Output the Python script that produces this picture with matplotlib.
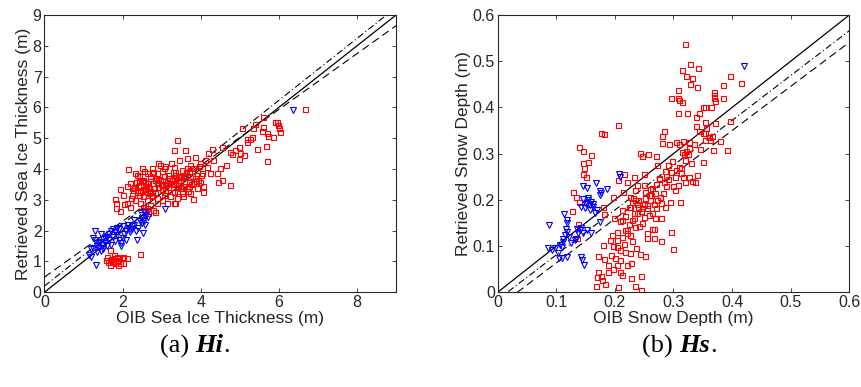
import matplotlib
matplotlib.use("Agg")
import matplotlib.pyplot as plt
import numpy as np

# ---------------- data: panel (a) sea ice thickness ----------------
hi_red_x = [6.66, 5.6, 5.07, 5.35, 5.4, 5.59, 5.57, 5.69, 5.72, 5.84, 5.9, 5.95, 5.99, 6.0, 6.02,
            5.67, 5.43, 5.69, 5.18, 5.31, 5.26, 5.19, 4.97, 4.88, 5.01, 5.1, 4.97, 4.79, 4.75,
            4.54, 4.5, 4.41, 4.54, 4.45, 4.75, 4.64, 4.28, 4.19, 4.1, 4.32, 4.07,
            3.39, 3.32, 3.6, 2.96, 3.1, 3.23, 2.15, 1.94, 1.81, 1.83, 1.83, 1.94, 2.11, 2.02, 2.24,
            3.8, 3.34, 2.83, 2.62,
            2.41, 2.35, 2.45, 2.53, 2.62, 2.7, 2.75, 2.66, 2.49, 2.41, 2.53, 2.62, 2.75, 2.83, 2.92,
            2.96, 2.87, 3.05, 3.13, 3.17, 3.09, 3.22, 3.31, 3.39, 3.47, 3.56, 3.51, 3.64, 3.73, 3.81,
            3.9, 3.77, 3.69, 3.81, 3.94, 3.64, 3.51, 3.39, 3.31, 3.13, 3.0, 2.87, 2.7, 2.79, 2.66,
            2.53, 2.45, 2.32, 2.24, 2.28, 2.19, 2.36, 2.49, 2.75, 3.05, 3.31, 3.44, 3.64, 3.86, 3.99,
            4.03, 3.99, 3.9, 3.73, 2.92, 2.75, 2.57, 2.83, 3.0, 3.26, 3.34, 2.87, 2.62, 2.75, 3.05,
            3.17, 2.11, 2.19, 2.57, 2.49, 4.16, 4.25, 3.56, 3.43,
            2.6, 2.7, 2.9, 3.0, 3.2, 3.3, 3.5, 3.6, 2.5, 2.8, 3.1, 3.4, 3.7, 2.55, 2.65, 2.95, 3.25,
            3.45, 3.55, 3.35, 3.15, 2.85, 2.45, 2.4, 3.7, 3.85, 4.0, 3.75, 3.62,
            2.3, 2.55, 2.68, 2.78, 2.98, 3.08, 3.28, 3.48, 3.58, 3.68, 2.22, 2.38, 2.58, 2.88,
            3.18, 3.38, 3.88, 4.05, 2.05, 2.33, 2.72, 3.02, 3.52, 3.95, 2.42, 2.92, 3.42,
            1.6, 1.68, 1.77, 1.85, 1.72, 1.81, 1.89, 1.98, 1.94, 1.68, 1.64, 1.77, 1.85, 2.02, 2.11,
            2.02, 2.45, 1.68, 1.58, 1.89, 1.75, 1.92, 1.7]
hi_red_y = [5.96, 5.7, 5.32, 5.32, 5.46, 5.38, 5.22, 5.16, 5.08, 5.05, 5.54, 5.54, 5.43, 5.32, 5.2,
            4.76, 4.65, 4.25, 4.99, 5.05, 4.97, 4.89, 4.73, 4.62, 4.51, 4.46, 4.32, 4.49, 4.57,
            4.73, 4.03, 3.86, 3.65, 3.59, 3.48, 4.13, 4.64, 4.51, 4.3, 4.3, 3.24,
            4.95, 4.62, 4.62, 4.13, 4.11, 4.21, 3.99, 3.34, 3.02, 2.89, 2.73, 2.65, 3.45, 3.16, 3.38,
            3.02, 2.89, 2.62, 2.73,
            3.76, 3.59, 3.48, 3.65, 3.86, 3.76, 3.54, 3.43, 3.32, 3.16, 3.11, 3.0, 3.11, 3.27, 3.43,
            3.65, 3.86, 3.76, 3.59, 3.43, 3.27, 3.11, 3.27, 3.43, 3.59, 3.76, 3.97, 4.03, 4.13, 4.03,
            3.97, 3.79, 3.59, 3.54, 3.65, 3.38, 3.21, 3.05, 2.89, 2.89, 3.0, 2.89, 2.83, 2.67, 2.56,
            2.78, 2.89, 3.0, 3.16, 3.32, 3.54, 3.81, 4.03, 4.03, 4.03, 4.08, 4.3, 4.35, 4.4, 4.19,
            3.86, 3.59, 3.38, 3.21, 4.19, 3.86, 3.59, 3.65, 3.48, 3.65, 3.81, 3.05, 3.27, 3.27, 3.16,
            3.81, 2.89, 2.78, 2.67, 2.45, 4.08, 3.86, 3.11, 3.65,
            3.45, 3.3, 3.55, 3.35, 3.7, 3.5, 3.4, 3.75, 3.6, 3.4, 3.5, 3.3, 3.45, 3.35, 3.55, 3.65, 3.55,
            3.75, 3.45, 3.9, 3.65, 3.7, 3.25, 3.45, 3.95, 3.7, 3.8, 3.5, 3.9,
            3.42, 3.95, 3.22, 3.92, 3.52, 3.32, 3.92, 3.38, 3.82, 3.28, 3.05, 3.25, 3.4, 3.58,
            3.55, 3.72, 3.62, 3.45, 2.85, 3.88, 3.15, 3.95, 3.28, 4.1, 3.62, 3.68, 3.78,
            1.16, 1.05, 1.1, 1.16, 0.99, 0.94, 1.05, 1.1, 0.94, 0.89, 0.99, 1.21, 1.0, 1.16, 1.1,
            0.94, 1.23, 1.37, 1.05, 0.89, 1.02, 1.12, 1.08]
hi_blue_x = [1.19, 1.31, 1.2, 1.25, 1.3, 1.35, 1.4, 1.45, 1.5, 1.55, 1.6, 1.65, 1.7, 1.75, 1.8,
             1.85, 1.9, 1.95, 2.0, 2.05, 2.1, 2.15, 2.2, 2.25, 2.3, 2.35, 2.4, 2.45, 2.5, 2.55,
             2.58, 2.53, 2.38, 2.5, 1.3, 1.45, 1.55, 1.7, 1.8, 1.35, 1.4, 1.5, 1.6, 1.75, 1.9,
             2.0, 2.2, 2.3, 1.25, 1.65, 2.6, 3.1, 6.37, 1.85, 1.95, 2.1, 1.15, 2.65, 1.5, 1.42,
             2.15, 2.25, 2.5, 2.55]
hi_blue_y = [1.16, 0.89, 1.4, 1.75, 1.7, 1.5, 1.45, 1.35, 1.55, 1.6, 1.8, 1.9, 2.0, 2.05, 1.95,
             1.85, 1.7, 1.6, 1.75, 1.9, 2.0, 2.1, 2.05, 2.15, 2.2, 2.0, 2.1, 2.3, 2.4, 2.3,
             2.2, 1.92, 1.7, 2.51, 2.0, 1.9, 1.75, 1.55, 1.65, 1.3, 1.6, 1.4, 1.5, 1.8, 2.05,
             2.15, 1.95, 2.35, 1.45, 1.7, 2.5, 2.69, 5.92, 2.1, 1.5, 1.7, 1.2, 2.45, 1.72, 1.62,
             2.2, 2.05, 2.25, 2.6]
hi_fit_dash = (0.907, 0.49)      # slope, intercept
hi_fit_dashdot = (1.005, 0.2)

# ---------------- data: panel (b) snow depth ----------------
hs_red_x = [0.320, 0.329, 0.314, 0.341, 0.322, 0.332, 0.329, 0.340, 0.396, 0.416, 0.385,
            0.369, 0.37, 0.37, 0.385, 0.371, 0.364, 0.35, 0.354, 0.296, 0.307, 0.308, 0.31, 0.314,
            0.323, 0.307, 0.339, 0.344, 0.206, 0.176, 0.182,
            0.138, 0.146, 0.16, 0.155, 0.146, 0.147, 0.145, 0.15, 0.129, 0.133, 0.139, 0.137, 0.135, 0.127,
            0.206, 0.196, 0.18, 0.181,
            0.167, 0.169, 0.176, 0.172, 0.178, 0.183, 0.189, 0.181, 0.172, 0.193,
            0.206, 0.235, 0.245, 0.245, 0.227, 0.213, 0.22, 0.228, 0.203, 0.209,
            0.251, 0.243, 0.197, 0.18, 0.203,
            0.3, 0.296, 0.278, 0.266, 0.254, 0.254, 0.263, 0.266,
            0.279, 0.279, 0.277, 0.294, 0.311, 0.259, 0.246, 0.249, 0.246, 0.243,
            0.257, 0.27, 0.28, 0.28, 0.283, 0.293,
            0.305, 0.309, 0.317, 0.327, 0.327, 0.335, 0.315, 0.324, 0.32, 0.309,
            0.35, 0.354, 0.344, 0.353, 0.371, 0.365, 0.36, 0.354, 0.38, 0.391, 0.396,
            0.368, 0.351, 0.34, 0.337, 0.331, 0.327, 0.316, 0.32, 0.308, 0.3, 0.303,
            0.29, 0.287, 0.283, 0.276, 0.271, 0.268, 0.26, 0.251, 0.26, 0.267, 0.271,
            0.226, 0.232, 0.237, 0.229, 0.235, 0.22, 0.212, 0.203, 0.226, 0.214, 0.235, 0.237, 0.249,
            0.22, 0.215, 0.232, 0.212, 0.213, 0.199, 0.203, 0.209, 0.226, 0.216, 0.242, 0.249, 0.249,
            0.24, 0.254, 0.263, 0.235, 0.229, 0.224, 0.239, 0.233, 0.218, 0.226, 0.209, 0.195, 0.192, 0.2,
            0.285, 0.298, 0.312, 0.318, 0.29, 0.305, 0.272, 0.262, 0.338, 0.345, 0.356, 0.362,
            0.218, 0.224, 0.231, 0.238, 0.244, 0.252, 0.258, 0.264, 0.272, 0.282, 0.288, 0.296,
            0.302, 0.313, 0.321, 0.33, 0.221, 0.229, 0.236, 0.247, 0.255, 0.268, 0.276, 0.286,
            0.208, 0.217, 0.196, 0.188]
hs_red_y = [0.538, 0.494, 0.482, 0.485, 0.467, 0.464, 0.450, 0.445, 0.469, 0.452, 0.448,
            0.434, 0.427, 0.42, 0.42, 0.413, 0.402, 0.40, 0.40, 0.42, 0.438, 0.42, 0.416, 0.411,
            0.389, 0.387, 0.38, 0.387, 0.363, 0.345, 0.342,
            0.315, 0.306, 0.297, 0.281, 0.279, 0.27, 0.256, 0.25, 0.216, 0.207, 0.195, 0.148, 0.118, 0.177,
            0.243, 0.207, 0.185, 0.169,
            0.014, 0.034, 0.036, 0.045, 0.027, 0.019, 0.043, 0.072, 0.079, 0.081,
            0.012, 0.014, 0.005, 0.036, 0.032, 0.038, 0.06, 0.064, 0.058, 0.07,
            0.079, 0.083, 0.101, 0.102, 0.099,
            0.094, 0.13, 0.11, 0.117, 0.117, 0.128, 0.138, 0.138,
            0.16, 0.194, 0.207, 0.195, 0.195, 0.167, 0.182, 0.255, 0.296, 0.301,
            0.299, 0.294, 0.322, 0.338, 0.349, 0.321,
            0.326, 0.321, 0.327, 0.326, 0.312, 0.32, 0.304, 0.3, 0.286, 0.272,
            0.345, 0.344, 0.35, 0.369, 0.366, 0.339, 0.335, 0.33, 0.327, 0.307, 0.371,
            0.308, 0.283, 0.254, 0.239, 0.24, 0.25, 0.25, 0.239, 0.232, 0.229, 0.221,
            0.275, 0.252, 0.238, 0.248, 0.235, 0.214, 0.224, 0.218, 0.2, 0.191, 0.182,
            0.185, 0.171, 0.171, 0.157, 0.142, 0.128, 0.119, 0.131, 0.207, 0.218, 0.221, 0.232, 0.232,
            0.239, 0.257, 0.249, 0.178, 0.157, 0.16, 0.113, 0.092, 0.084, 0.104, 0.144, 0.164, 0.192,
            0.2, 0.189, 0.171, 0.2, 0.196, 0.185, 0.185, 0.16, 0.135, 0.124, 0.154, 0.125, 0.113, 0.074,
            0.262, 0.285, 0.258, 0.3, 0.245, 0.265, 0.275, 0.21, 0.36, 0.31, 0.355, 0.33,
            0.165, 0.148, 0.205, 0.19, 0.175, 0.205, 0.21, 0.225, 0.2, 0.215, 0.23, 0.26,
            0.25, 0.27, 0.305, 0.28, 0.135, 0.11, 0.095, 0.15, 0.183, 0.16, 0.245, 0.185,
            0.045, 0.088, 0.05, 0.06]
hs_blue_x = [0.421, 0.207, 0.208, 0.168, 0.174, 0.177, 0.186, 0.174, 0.146, 0.152,
             0.146, 0.155, 0.152, 0.16, 0.163, 0.157, 0.166, 0.149, 0.143, 0.169, 0.174,
             0.114, 0.118, 0.119, 0.117, 0.118, 0.115, 0.111, 0.109,
             0.088, 0.086, 0.092, 0.098, 0.103, 0.105, 0.109, 0.119,
             0.135, 0.14, 0.146, 0.137, 0.143, 0.152, 0.16, 0.134,
             0.143, 0.144, 0.147, 0.125, 0.132, 0.15, 0.155, 0.158, 0.162, 0.121, 0.112, 0.107]
hs_blue_y = [0.49, 0.256, 0.249, 0.237, 0.219, 0.215, 0.223, 0.21, 0.23, 0.225,
             0.201, 0.2, 0.193, 0.196, 0.185, 0.178, 0.171, 0.182, 0.185, 0.178, 0.153,
             0.169, 0.157, 0.149, 0.138, 0.131, 0.124, 0.115, 0.099,
             0.145, 0.095, 0.092, 0.095, 0.084, 0.075, 0.074, 0.076,
             0.138, 0.135, 0.128, 0.128, 0.14, 0.135, 0.129, 0.115,
             0.077, 0.07, 0.059, 0.107, 0.113, 0.19, 0.205, 0.188, 0.192, 0.12, 0.108, 0.102]
hs_fit_dash = (0.955, -0.032)
hs_fit_dashdot = (0.97, -0.016)

hi_ticks_x = [0, 2, 4, 6, 8]
hi_ticks_y = [0, 1, 2, 3, 4, 5, 6, 7, 8, 9]
hs_ticks = [0, 0.1, 0.2, 0.3, 0.4, 0.5, 0.6]

# ---------------- plotting ----------------
plt.rcParams['font.family'] = ['Liberation Sans', 'DejaVu Sans']
fig = plt.figure(figsize=(8.61, 3.87), dpi=100)

axcol = '#262626'

def style(ax, lim, xt, yt, xlabel, ylabel, fmt):
    ax.set_xlim(0, lim)
    ax.set_ylim(0, lim)
    ax.set_xticks(xt)
    ax.set_yticks(yt)
    ax.set_xticklabels([fmt(v) for v in xt])
    ax.set_yticklabels([fmt(v) for v in yt])
    ax.tick_params(direction='in', top=True, right=True, length=3, width=0.6,
                   labelsize=11.5, colors=axcol, pad=2)
    for s in ax.spines.values():
        s.set_linewidth(0.8)
        s.set_color(axcol)
    ax.set_xlabel(xlabel, fontsize=12.5, color=axcol, labelpad=1)
    ax.set_ylabel(ylabel, fontsize=12.5, color=axcol, labelpad=1)

def draw(ax, lim, rx, ry, bx, by, fd, fdd):
    xs = np.array([0, lim])
    ax.plot(xs, xs, color='black', lw=0.9)
    ax.plot(xs, fd[0] * xs + fd[1], color='black', lw=0.8, ls=(0, (7, 4)))
    ax.plot(xs, fdd[0] * xs + fdd[1], color='black', lw=0.8, ls=(0, (6, 2.5, 1, 2.5)))
    ax.plot(rx, ry, ls='none', marker='s', ms=3.6, mfc='none', mec='#ff0000', mew=0.8, clip_on=True)
    ax.plot(bx, by, ls='none', marker='v', ms=4.3, mfc='none', mec='#0000ff', mew=0.8, clip_on=True)

ax1 = fig.add_axes([0.0515, 0.2447, 0.4085, 0.7165])
draw(ax1, 9, hi_red_x, hi_red_y, hi_blue_x, hi_blue_y, hi_fit_dash, hi_fit_dashdot)
style(ax1, 9, hi_ticks_x, hi_ticks_y, 'OIB Sea Ice Thickness (m)', 'Retrieved Sea Ice Thickness (m)',
      lambda v: f'{v:g}')

ax2 = fig.add_axes([0.578, 0.2447, 0.4084, 0.7165])
draw(ax2, 0.6, hs_red_x, hs_red_y, hs_blue_x, hs_blue_y, hs_fit_dash, hs_fit_dashdot)
style(ax2, 0.6, hs_ticks, hs_ticks, 'OIB Snow Depth (m)', 'Retrieved Snow Depth (m)',
      lambda v: '0' if v == 0 else f'{v:.1f}')

# captions with bold-italic parts
fig.canvas.draw()
renderer = fig.canvas.get_renderer()

def caption(xc, y, parts):
    texts = []
    for s, w, st in parts:
        t = fig.text(0, y, s, fontsize=19, family='Liberation Serif', weight=w, style=st,
                     va='center', ha='left', color='black')
        texts.append(t)
    widths = [t.get_window_extent(renderer).width for t in texts]
    total = sum(widths)
    x = xc * fig.bbox.width - total / 2
    for t, w in zip(texts, widths):
        t.set_x(x / fig.bbox.width)
        x += w

caption(195 / 861, 1 - 346 / 387, [('(a) ', 'normal', 'normal'), ('Hi', 'bold', 'italic'), ('.', 'normal', 'normal')])
caption(679 / 861, 1 - 346 / 387, [('(b) ', 'normal', 'normal'), ('Hs', 'bold', 'italic'), ('.', 'normal', 'normal')])

fig.savefig('out.png', dpi=100)
